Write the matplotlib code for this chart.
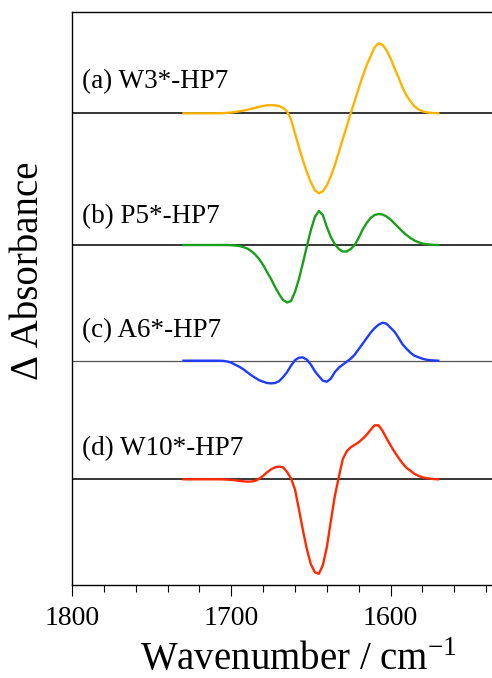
import numpy as np
import matplotlib.pyplot as plt

plt.rcParams['font.family'] = ['Liberation Serif', 'DejaVu Serif']
plt.rcParams['mathtext.fontset'] = 'custom'
plt.rcParams['mathtext.rm'] = 'Liberation Serif'

# wavenumber grid (cm-1), 1730 -> 1570 in 2.5 steps
wavenumber = np.arange(1730, 1569.9, -2.5)

labels = ["(a) W3*-HP7", "(b) P5*-HP7", "(c) A6*-HP7", "(d) W10*-HP7"]
colors = ["#FFB300", "#18A018", "#1F3BFF", "#FF2A00"]
base_colors = ["black", "black", "#555555", "black"]

# difference spectra (arb. units)
w3 = [0, 0, 0, 0, 0, 0, 0, 0, 0, 0.1, 0.2, 0.5, 0.8, 1.3, 2.0, 2.7, 3.5,
      4.5, 5.5, 6.5, 7.3, 8.0, 8.2, 8.0, 7.3, 5.5, 2.0, -6, -20, -34, -47,
      -59, -69, -77, -80, -78, -72, -63, -52, -39, -26, -13, 0, 12, 25, 37,
      48, 57, 66, 70, 68.5, 63, 55, 45, 36, 26, 18, 12, 7, 4, 2, 1, 0.5,
      0.2, 0]
p5 = [0, 0, 0, 0, 0, 0, 0, 0, 0, 0, 0, 0, -0.2, -0.5, -1, -2, -3.5, -6,
      -9.5, -14, -20, -27, -34, -42, -49, -55, -57.5, -56, -47, -34, -18,
      -1, 15, 28, 34, 30, 18, 8, 1, -4, -6.5, -6.5, -4, 0, 7, 15.5, 22, 27,
      30, 31, 30.5, 28.5, 25.5, 21.5, 17.5, 13.5, 10, 7, 4.5, 2.8, 1.5, 0.8,
      0.4, 0.1, 0]
a6 = [0, 0, 0, 0, 0, 0, 0, 0, 0, 0, -0.2, -0.8, -2, -4, -6, -8.5, -11.5,
      -14.5, -17, -19.5, -21, -22.3, -22.7, -22.3, -20.5, -16.5, -11.5, -5,
      0.5, 3, 3.3, 1, -4, -10.5, -15.5, -20, -21, -18, -11.5, -7, -4, -1,
      2, 6, 11.5, 17, 22.5, 28, 32.5, 36, 38, 37, 33, 29, 23, 16.5, 12, 8,
      5, 3.5, 2, 1, 0.5, 0.2, 0]
w10 = [0, 0, 0, 0, 0, 0, 0, 0, 0, 0, -0.1, -0.3, -0.6, -1, -1.5, -2, -2.3,
       -2.3, -1.5, 0.5, 3.5, 7, 10, 12, 12.7, 12, 7.5, 1, -10, -30, -51,
       -70, -85, -93, -94.5, -86, -68, -42, -17, 2, 20, 28, 32, 34.5, 37,
       40.5, 44.5, 49.5, 54, 54, 48.5, 41, 34, 27.5, 21.5, 16, 11.5, 8.5,
       5.5, 3.5, 2, 1.2, 0.6, 0.2, 0]
spectra = [w3, p5, a6, w10]

offsets = [471.7, 340, 224.3, 105.7]
label_y = [496.7, 362, 248.3, 130]

fig = plt.figure(figsize=(4.92, 6.78), dpi=100)
ax = fig.add_axes([72 / 492, 93 / 678, 430 / 492, 573 / 678])

for spec, off, col, bcol, lab, ly in zip(spectra, offsets, colors, base_colors, labels, label_y):
    ax.axhline(off, color=bcol, lw=1.1 if bcol == "black" else 0.9, zorder=1)
    ax.plot(wavenumber, np.array(spec) + off, color=col, lw=1.7, zorder=2)
    ax.text(1793.7, ly, lab, fontsize=19.5, va='baseline', ha='left')

ax.set_yticks([])
ax.set_xticks([1800, 1700, 1600])
ax.set_xticks(np.arange(1800, 1520, -20), minor=True)
ax.set_xlim(1800, 1530)
ax.set_ylim(0, 573)
ax.tick_params(axis='x', which='major', direction='out', length=8, width=0.8,
               labelsize=20, pad=7)
ax.tick_params(axis='x', which='minor', direction='out', length=5, width=0.8)
for s in ax.spines.values():
    s.set_linewidth(1.0)

fig.text(298.5 / 492, 1 - 670 / 678, "Wavenumber / cm$^{\\mathregular{-1}}$",
         fontsize=28, ha='center', va='baseline')
fig.text(29 / 492, 1 - 271 / 678, "\u0394\u2009Absorbance", fontsize=28,
         rotation=90, ha='center', va='center')

fig.savefig("out.png", dpi=100)
